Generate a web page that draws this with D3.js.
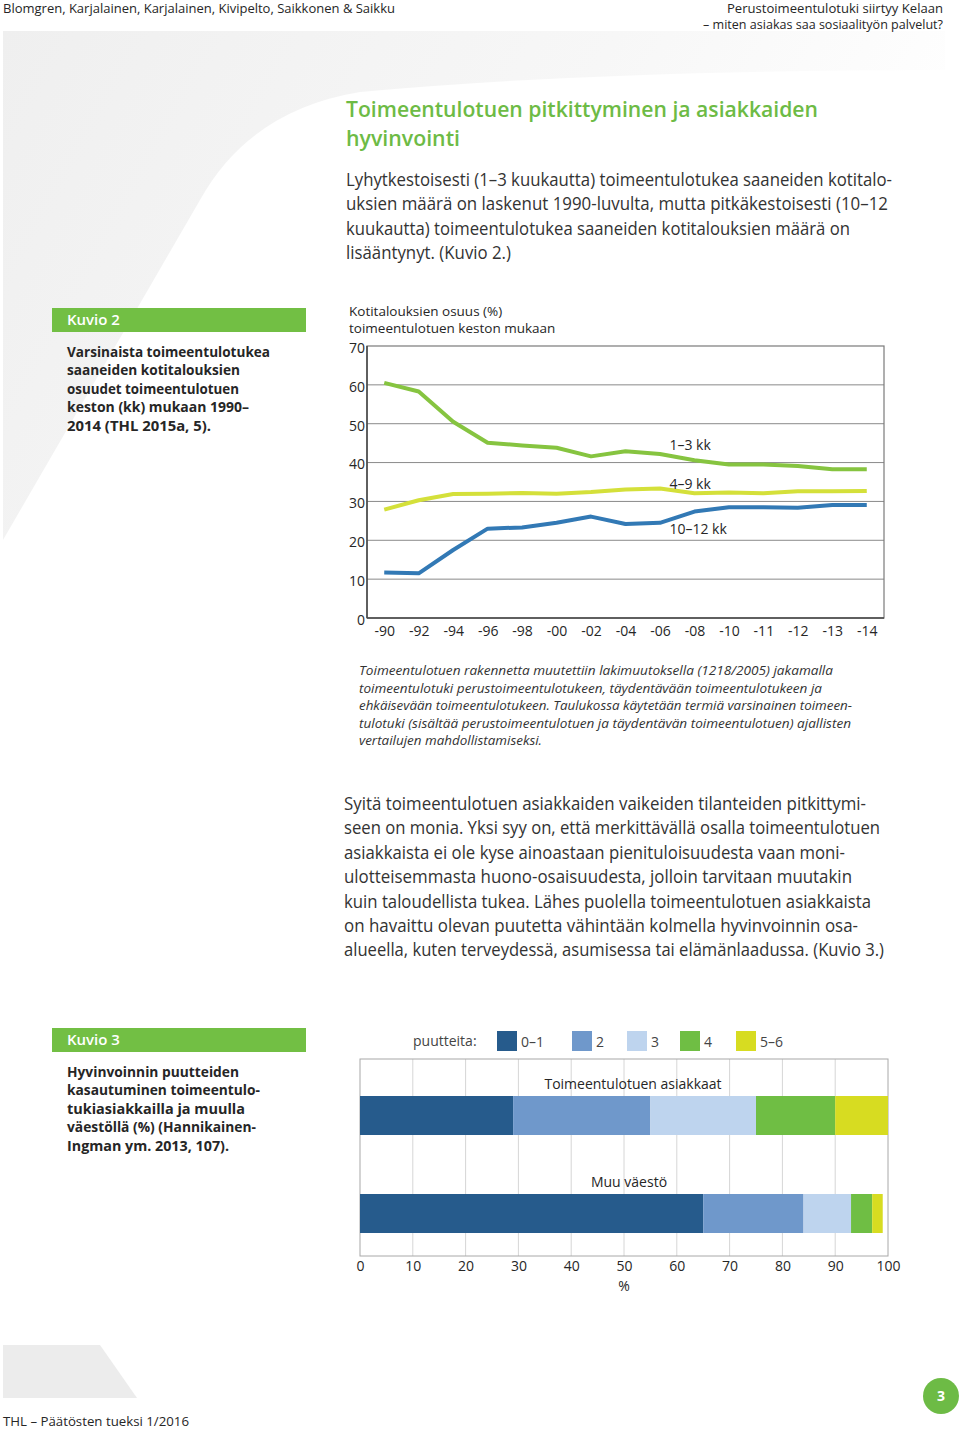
<!DOCTYPE html>
<html><head><meta charset="utf-8">
<script src="https://cdn.jsdelivr.net/npm/d3@7"></script>
<style>
html,body{margin:0;padding:0;background:#fff;}
svg{display:block;font-family:"Open Sans","Noto Sans",sans-serif;}
</style></head>
<body>
<svg id="page" width="960" height="1429"></svg>
<script>
// ---- Data: Kuvio 2 (line chart) ----
const years = ["-90","-92","-94","-96","-98","-00","-02","-04","-06","-08","-10","-11","-12","-13","-14"];
const short13 = [60.5,58.3,50.5,45.1,44.4,43.8,41.6,42.9,42.2,40.6,39.5,39.5,39.1,38.3,38.3];
const mid49   = [27.9,30.3,31.9,32.0,32.2,32.0,32.4,33.1,33.3,32.1,32.3,32.1,32.6,32.6,32.7];
const long1012= [11.7,11.5,17.5,23.0,23.3,24.5,26.1,24.2,24.5,27.4,28.5,28.5,28.4,29.1,29.1];
const lineNames = ["1–3 kk","4–9 kk","10–12 kk"];
const yTicks = [0,10,20,30,40,50,60,70];

// ---- Data: Kuvio 3 (stacked bars) ----
const groups = ["Toimeentulotuen asiakkaat","Muu väestö"];
const legendKeys = ["0–1","2","3","4","5–6"];
const asiakkaat = [29,26,20,15,10];
const muuVaesto = [65,19,9,4,2];
const xTicks = [0,10,20,30,40,50,60,70,80,90,100];

const svg = d3.select("#page");
const dark = "#262626";
const green = "#6dbb45";

// ---- background decoration ----
const defs = svg.append("defs");
const gr = defs.append("linearGradient").attr("id","bgG").attr("x1","0").attr("x2","1").attr("y1","0").attr("y2","0.3");
gr.append("stop").attr("offset","0").attr("stop-color","#efefef");
gr.append("stop").attr("offset","0.6").attr("stop-color","#f7f7f7");
gr.append("stop").attr("offset","1").attr("stop-color","#ffffff");
svg.append("path").attr("d","M3,31 L945,31 L945,70 Q600,70 360,92 Q250,110 200,200 L3,540 Z").attr("fill","url(#bgG)");
svg.append("path").attr("d","M3,1345 L100,1345 L137,1398 L3,1398 Z").attr("fill","#ececec");

function tl(x,y,size,txt,len,opts={}){
  const t = svg.append("text").attr("x",x).attr("y",y).attr("font-size",size).attr("fill",opts.fill||dark).text(txt);
  if(len) t.attr("textLength",len).attr("lengthAdjust","spacingAndGlyphs");
  if(opts.weight) t.attr("font-weight",opts.weight);
  if(opts.style) t.attr("font-style",opts.style);
  if(opts.anchor) t.attr("text-anchor",opts.anchor);
  return t;
}

// ---- header ----
tl(3,13,13,"Blomgren, Karjalainen, Karjalainen, Kivipelto, Saikkonen & Saikku",392);
tl(943,12.5,12.5,"Perustoimeentulotuki siirtyy Kelaan",216,{anchor:"end"});
tl(943,29,12.5,"– miten asiakas saa sosiaalityön palvelut?",240,{anchor:"end"});

// ---- title ----
tl(346,117,22,"Toimeentulotuen pitkittyminen ja asiakkaiden",472,{fill:green,weight:600});
tl(346,146,22,"hyvinvointi",114,{fill:green,weight:600});

const p1 = [["Lyhytkestoisesti (1–3 kuukautta) toimeentulotukea saaneiden kotitalo-",546],
            ["uksien määrä on laskenut 1990-luvulta, mutta pitkäkestoisesti (10–12",542],
            ["kuukautta) toimeentulotukea saaneiden kotitalouksien määrä on",504],
            ["lisääntynyt. (Kuvio 2.)",165]];
p1.forEach((l,i)=>tl(346,186+i*24.4,18,l[0],l[1],{fill:"#333"}));

// ---- Kuvio boxes ----
function kuvio(y,title,lines){
  svg.append("rect").attr("x",52).attr("y",y).attr("width",254).attr("height",24).attr("fill","#72bf44");
  tl(67,y+17,15,title,null,{fill:"#fff",weight:600});
  lines.forEach((l,i)=>tl(67,y+49+i*18.4,15,l[0],l[1],{weight:700}));
}
kuvio(308,"Kuvio 2",[["Varsinaista toimeentulotukea",203],["saaneiden kotitalouksien",173],["osuudet toimeentulotuen",172],["keston (kk) mukaan 1990–",182],["2014  (THL 2015a, 5).",144]]);
kuvio(1028,"Kuvio 3",[["Hyvinvoinnin puutteiden",172],["kasautuminen toimeentulo-",193],["tukiasiakkailla ja muulla",178],["väestöllä (%) (Hannikainen-",189],["Ingman ym. 2013, 107).",162]]);

// ---- Line chart ----
const L = {left:367,right:884,top:346,bottom:618};
const x = d3.scalePoint().domain(years).range([L.left,L.right]).padding(0.5);
const y = d3.scaleLinear().domain([0,70]).range([L.bottom,L.top]);
const lc = svg.append("g");
tl(349,316,13.5,"Kotitalouksien osuus (%)",null);
tl(349,333,13.5,"toimeentulotuen keston mukaan",null);
// gridlines
lc.append("g").selectAll("line").data(yTicks.filter(d=>d>0&&d<70)).join("line")
  .attr("x1",L.left).attr("x2",L.right).attr("y1",d=>y(d)).attr("y2",d=>y(d))
  .attr("stroke","#8a8a8a").attr("stroke-width",1);
// frame
lc.append("rect").attr("x",L.left).attr("y",y(70)).attr("width",L.right-L.left).attr("height",L.bottom-y(70))
  .attr("fill","none").attr("stroke","#7a7a7a").attr("stroke-width",1.2);
lc.append("line").attr("x1",L.left).attr("x2",L.left).attr("y1",y(70)).attr("y2",L.bottom).attr("stroke","#444").attr("stroke-width",1.5);
lc.append("line").attr("x1",L.left).attr("x2",L.right).attr("y1",L.bottom).attr("y2",L.bottom).attr("stroke","#444").attr("stroke-width",1.5);
// axes
const ya = lc.append("g").attr("transform",`translate(${L.left},0)`)
  .call(d3.axisLeft(y).tickValues(yTicks).tickSize(0).tickPadding(2));
ya.select(".domain").remove();
ya.selectAll("text").attr("font-size",14).attr("fill",dark).attr("font-family","Open Sans").attr("dy","0.45em");
const xa = lc.append("g").attr("transform",`translate(0,${L.bottom})`)
  .call(d3.axisBottom(x).tickSize(0).tickPadding(8));
xa.select(".domain").remove();
xa.selectAll("text").attr("font-size",14).attr("fill",dark).attr("font-family","Open Sans");
// lines
const series = [{v:short13,c:"#86c440"},{v:mid49,c:"#d4e03a"},{v:long1012,c:"#3279b5"}];
const lineGen = d3.line().x((d,i)=>x(years[i])).y(d=>y(d));
lc.selectAll("path.s").data(series).join("path").attr("class","s")
  .attr("d",d=>lineGen(d.v)).attr("fill","none").attr("stroke",d=>d.c).attr("stroke-width",4)
  .attr("stroke-linejoin","round");
// series labels
const labY = [44.6,34.6,23.0];
lineNames.forEach((n,i)=>tl(x("-08")-25,y(labY[i])+5,14,n,null));

// caption
const cap = [["Toimeentulotuen rakennetta muutettiin lakimuutoksella (1218/2005) jakamalla",474],
  ["toimeentulotuki perustoimeentulotukeen, täydentävään toimeentulotukeen ja",463],
  ["ehkäisevään toimeentulotukeen. Taulukossa käytetään termiä varsinainen toimeen-",493],
  ["tulotuki (sisältää perustoimeentulotuen ja täydentävän toimeentulotuen) ajallisten",492],
  ["vertailujen mahdollistamiseksi.",183]];
cap.forEach((l,i)=>tl(359,675+i*17.6,13,l[0],l[1],{style:"italic",fill:"#333"}));

// paragraph 2
const p2 = [["Syitä toimeentulotuen asiakkaiden vaikeiden tilanteiden pitkittymi-",522],
  ["seen on monia. Yksi syy on, että merkittävällä osalla toimeentulotuen",536],
  ["asiakkaista ei ole kyse ainoastaan pienituloisuudesta vaan moni-",501],
  ["ulotteisemmasta huono-osaisuudesta, jolloin tarvitaan muutakin",508],
  ["kuin taloudellista tukea. Lähes puolella toimeentulotuen asiakkaista",527],
  ["on havaittu olevan puutetta vähintään kolmella hyvinvoinnin osa-",514],
  ["alueella, kuten terveydessä, asumisessa tai elämänlaadussa. (Kuvio 3.)",540]];
p2.forEach((l,i)=>tl(344,810+i*24.4,18,l[0],l[1],{fill:"#333"}));

// ---- Bar chart ----
const B = {left:360,right:888,top:1059,bottom:1256};
const bx = d3.scaleLinear().domain([0,100]).range([B.left,B.right]);
const by = d3.scaleBand().domain(groups).range([1066.5,1262.5]).paddingInner(0.602).paddingOuter(0.301);
const colors = ["#265b8c","#6f98cb","#bed4ee","#6fbe44","#d7dc21"];
const color = d3.scaleOrdinal().domain(legendKeys).range(colors);
const bc = svg.append("g");
bc.append("g").selectAll("line").data(xTicks.filter(d=>d>0&&d<100)).join("line")
  .attr("x1",d=>bx(d)).attr("x2",d=>bx(d)).attr("y1",B.top).attr("y2",B.bottom)
  .attr("stroke","#d6d6d6").attr("stroke-width",1);
bc.append("rect").attr("x",B.left).attr("y",B.top).attr("width",B.right-B.left).attr("height",B.bottom-B.top)
  .attr("fill","none").attr("stroke","#a8a8a8").attr("stroke-width",1);
const table = groups.map((g,i)=>{const o={group:g};legendKeys.forEach((k,j)=>o[k]=(i===0?asiakkaat:muuVaesto)[j]);return o;});
const stacked = d3.stack().keys(legendKeys)(table);
bc.selectAll("g.layer").data(stacked).join("g").attr("class","layer").attr("fill",d=>color(d.key))
  .selectAll("rect").data(d=>d).join("rect")
  .attr("x",d=>bx(d[0])).attr("width",d=>bx(d[1])-bx(d[0]))
  .attr("y",d=>by(d.data.group)).attr("height",by.bandwidth());
bc.selectAll("text.gl").data(groups).join("text").attr("class","gl")
  .attr("x",(d,i)=>i===0?633:629).attr("y",d=>by(d)-7).attr("text-anchor","middle")
  .attr("font-size",14).attr("fill",dark).text(d=>d);
const bxa = bc.append("g").attr("transform",`translate(0,${B.bottom})`)
  .call(d3.axisBottom(bx).tickValues(xTicks).tickSize(0).tickPadding(5));
bxa.select(".domain").remove();
bxa.selectAll("text").attr("font-size",14).attr("fill",dark).attr("font-family","Open Sans");
tl(624,1291,14,"%",null,{anchor:"middle"});
// legend
tl(413,1046,14,"puutteita:",null,{fill:"#444"});
const legX = [497,572,627,680,736];
const lg = bc.selectAll("g.leg").data(legendKeys).join("g").attr("class","leg")
  .attr("transform",(d,i)=>`translate(${legX[i]},1031)`);
lg.append("rect").attr("width",20).attr("height",20).attr("fill",d=>color(d));
lg.append("text").attr("x",24).attr("y",16).attr("font-size",14).attr("fill","#444").text(d=>d);

// ---- footer ----
tl(3,1426,13,"THL – Päätösten tueksi  1/2016",186);
svg.append("circle").attr("cx",941).attr("cy",1396).attr("r",18).attr("fill","#6dbb45");
tl(941,1401,14,"3",null,{fill:"#fff",weight:700,anchor:"middle"});
</script>
</body></html>
